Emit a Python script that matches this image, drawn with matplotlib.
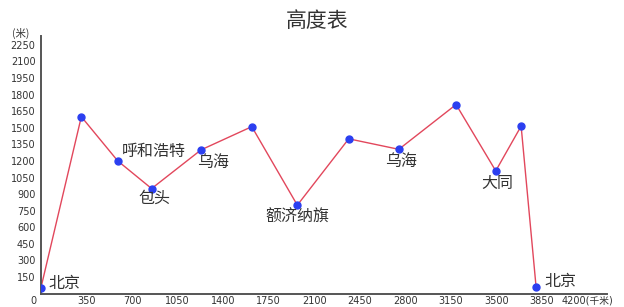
import matplotlib
matplotlib.use("Agg")
import matplotlib.pyplot as plt
import matplotlib.transforms as mtransforms

plt.rcParams['font.family'] = ['Noto Sans CJK SC', 'DejaVu Sans']

# data
distance_km = [0, 310, 590, 850, 1230, 1620, 1970, 2365, 2750, 3190, 3495, 3690, 3805]
altitude_m = [55, 1600, 1200, 950, 1300, 1510, 800, 1400, 1305, 1710, 1110, 1515, 60]
place_names = ['北京', '', '呼和浩特', '包头', '乌海', '', '额济纳旗', '', '乌海', '', '大同', '', '北京']
x_ticks = [0, 350, 700, 1050, 1400, 1750, 2100, 2450, 2800, 3150, 3500, 3850, 4200]
x_tick_labels = ['0', '350', '700', '1050', '1400', '1750', '2100', '2450', '2800',
                 '3150', '3500', '3850', '4200(千米)']
y_ticks = [150, 300, 450, 600, 750, 900, 1050, 1200, 1350, 1500, 1650, 1800, 1950, 2100, 2250]
title = '高度表'
y_unit = '(米)'

# label offsets in pixels (dx, dy, ha)
label_offsets = [(7, 4, 'left'), None, (36, 9, 'center'), (3, -10, 'center'),
                 (12, -13, 'center'), None, (0, -12, 'center'), None,
                 (2, -12, 'center'), None, (2, -13, 'center'), None, (8, 5, 'left')]

fig = plt.figure(figsize=(6.24, 3.07), dpi=100)
fig.patch.set_facecolor('white')
ax = fig.add_axes([41/624, 13.4/307, (607-41)/624, (293.6-36)/307])

ax.plot(distance_km, altitude_m, color='#e2475c', lw=1.0, zorder=2)
ax.plot(distance_km, altitude_m, 'o', color='#2b3ff0', ms=5, zorder=3)

for x, y, name, off in zip(distance_km, altitude_m, place_names, label_offsets):
    if name and off:
        dx, dy, ha = off
        ax.annotate(name, (x, y), xytext=(dx, dy), textcoords='offset pixels',
                    ha=ha, va='center', fontsize=11.5, color='#333333')

tick_family = ['DejaVu Sans', 'Noto Sans CJK SC']
ax.set_xlim(0, 4350)
ax.set_ylim(0, 2330)
ax.set_xticks(x_ticks)
ax.set_xticklabels(x_tick_labels, fontsize=7, color='#333333', family=tick_family)
ax.set_yticks(y_ticks)
ax.set_yticklabels([str(v) for v in y_ticks], fontsize=7, color='#333333', family=tick_family)
ax.tick_params(length=0)
ax.tick_params(axis='x', pad=1.5)
ax.tick_params(axis='y', pad=4)

# shift the "0" label left a bit
lab0 = ax.get_xticklabels()[0]
lab0.set_transform(lab0.get_transform() + mtransforms.ScaledTranslation(-8/100, 0, fig.dpi_scale_trans))

for s in ['top', 'right']:
    ax.spines[s].set_visible(False)
for s in ['left', 'bottom']:
    ax.spines[s].set_color('#555555')
    ax.spines[s].set_linewidth(1.4)

fig.text(317/624, 1 - 21/307, title, ha='center', va='center', fontsize=15, color='#333333')
fig.text(21/624, 1 - 33/307, y_unit, ha='center', va='center', fontsize=7.5, color='#333333')

fig.savefig('out.png', dpi=100)
